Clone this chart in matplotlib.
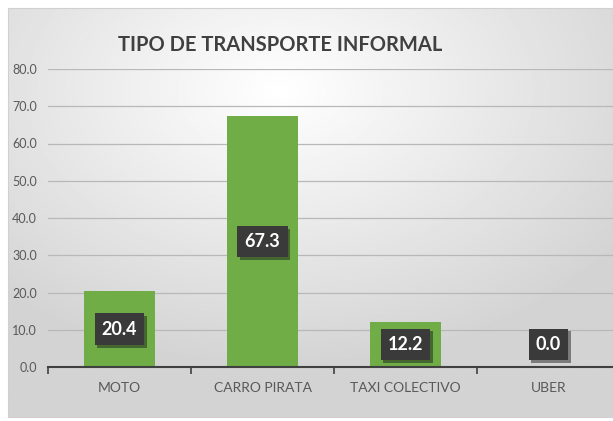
import numpy as np
import matplotlib
matplotlib.use('Agg')
from matplotlib import pyplot as plt
from matplotlib import patheffects as pe

categorias = ['MOTO', 'CARRO PIRATA', 'TAXI COLECTIVO', 'UBER']
valores = [20.4, 67.3, 12.2, 0.0]
titulo = 'TIPO DE TRANSPORTE INFORMAL'

plt.rcParams['font.family'] = ['Lato', 'DejaVu Sans']

fig = plt.figure(figsize=(6.13, 4.21), dpi=100)
fig.patch.set_facecolor('white')

# fundo com gradiente radial (como no Excel)
bg = fig.add_axes([8/613, 4/421, 605/613, 409/421], zorder=-1)
yy, xx = np.mgrid[0:1:300j, 0:1:450j]
r = np.sqrt(((xx - 0.45) / 0.9) ** 2 + ((yy - 0.2) / 0.9) ** 2)
r = np.clip(r / 0.75, 0, 1)
bg.imshow(1 - 0.17 * r, cmap='gray', vmin=0, vmax=1, aspect='auto', extent=[0, 1, 1, 0])
bg.set_xticks([])
bg.set_yticks([])
for s in bg.spines.values():
    s.set_color('#d0d0d0')
    s.set_linewidth(0.8)

ax = fig.add_axes([48/613, 54/421, 572/613, 298/421])
ax.set_facecolor('none')
x = np.arange(len(categorias))
ax.bar(x, valores, width=0.5, color='#70ad47', zorder=3)

ax.set_xlim(-0.5, 3.5)
ax.set_ylim(0, 80)
ax.set_yticks(np.arange(0, 81, 10))
ax.set_yticklabels(['%.1f' % v for v in np.arange(0, 81, 10)], fontsize=9, color='#595959')
ax.tick_params(axis='y', length=0, pad=8)
ax.set_xticks(x)
ax.set_xticklabels(categorias, fontsize=10, color='#595959')
ax.tick_params(axis='x', which='major', length=0, pad=11)
ax.set_xticks(np.arange(-0.5, 3.6, 1), minor=True)
ax.tick_params(axis='x', which='minor', length=5, width=1.2, color='#404040', direction='out')
ax.grid(axis='y', color='#b8b8b8', linewidth=0.9, zorder=0)
ax.set_axisbelow(True)
for s in ['top', 'right', 'left']:
    ax.spines[s].set_visible(False)
ax.spines['bottom'].set_color('#404040')
ax.spines['bottom'].set_linewidth(1.5)
ax.spines['bottom'].set_zorder(4)

for xi, v in zip(x, valores):
    t = ax.text(xi, max(v / 2, 6.1), '%.1f' % v, ha='center', va='center',
                fontsize=13, fontweight='bold', color='white', zorder=5,
                bbox=dict(boxstyle='square,pad=0.4', facecolor='#3a3a3a', edgecolor='none'))
    t.get_bbox_patch().set_path_effects([pe.SimplePatchShadow(offset=(2, -2), alpha=0.45),
                                         pe.Normal()])

fig.text(280/613, 0.893, titulo, ha='center', va='center', fontsize=14.5,
         fontweight='bold', color='#404040')

fig.savefig('out.png', dpi=100)
